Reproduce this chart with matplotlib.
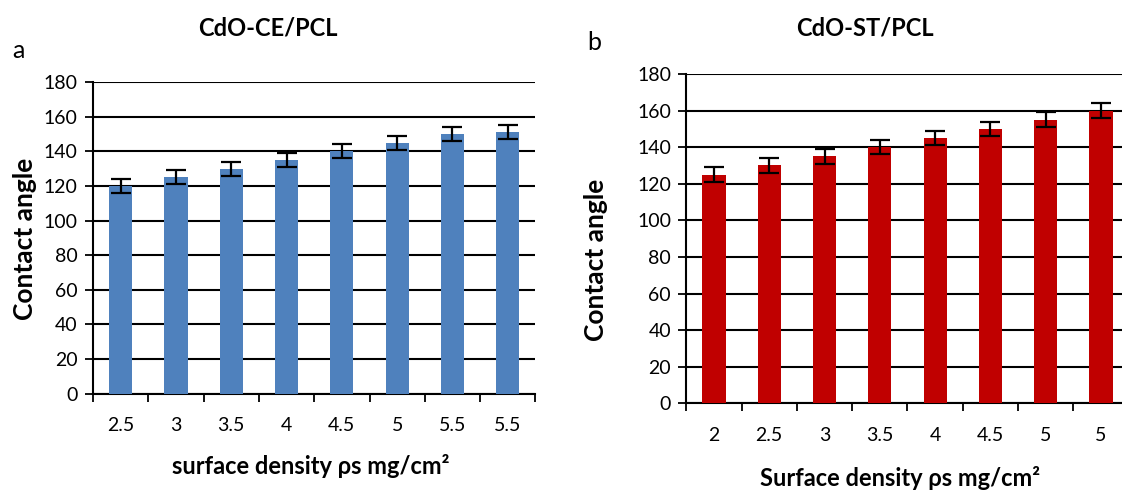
import matplotlib
matplotlib.use("Agg")
import matplotlib.pyplot as plt
import numpy as np

plt.rcParams['font.family'] = ['Lato', 'DejaVu Sans']

# Panel a
labels_a = ["2.5", "3", "3.5", "4", "4.5", "5", "5.5", "5.5"]
values_a = [120, 125, 130, 135, 140, 145, 150, 151]
errors_a = [4, 4, 4, 4, 4, 4, 4, 4]

# Panel b
labels_b = ["2", "2.5", "3", "3.5", "4", "4.5", "5", "5"]
values_b = [125, 130, 135, 140, 145, 150, 155, 160]
errors_b = [4, 4, 4, 4, 4, 4, 4, 4]

yticks = [0, 20, 40, 60, 80, 100, 120, 140, 160, 180]

W, H = 1122, 492
fig = plt.figure(figsize=(W / 100, H / 100), dpi=100)


def panel(rect, labels, values, errors, color, title, xlabel, letter, letter_xy,
          title_xy, xlabel_xy, ylabel_xy):
    ax = fig.add_axes(rect)
    x = np.arange(len(values))
    ax.bar(x, values, width=0.42, color=color, zorder=3)
    ax.errorbar(x, values, yerr=errors, fmt='none', ecolor='black',
                elinewidth=1.6, capsize=7, capthick=1.6, zorder=4)
    ax.set_xlim(-0.5, len(values) - 0.5)
    ax.set_ylim(0, 180)
    ax.set_yticks(yticks)
    ax.yaxis.grid(True, color='black', linewidth=1.5, zorder=1)
    ax.set_axisbelow(True)
    ax.set_xticks(np.arange(-0.5, len(values)), minor=False)
    ax.set_xticklabels([])
    ax.set_xticks(x, minor=True)
    ax.set_xticklabels(labels, minor=True)
    ax.tick_params(axis='x', which='major', direction='out', length=6, width=1.3)
    ax.tick_params(axis='x', which='minor', length=0, pad=17, labelsize=14)
    ax.tick_params(axis='y', direction='out', length=6, width=1.3, labelsize=14, pad=5)
    for s in ['top', 'right']:
        ax.spines[s].set_visible(False)
    for s in ['left', 'bottom']:
        ax.spines[s].set_linewidth(1.5)
        ax.spines[s].set_color('black')
    fig.text(title_xy[0], title_xy[1], title, ha='center', va='center',
             fontsize=17, fontweight='bold')
    fig.text(xlabel_xy[0], xlabel_xy[1], xlabel, ha='center', va='center',
             fontsize=17, fontweight='bold')
    fig.text(ylabel_xy[0], ylabel_xy[1], "Contact angle", ha='center', va='center',
             rotation=90, fontsize=19, fontweight='bold')
    fig.text(letter_xy[0], letter_xy[1], letter, ha='center', va='center', fontsize=18)
    return ax


panel([93 / W, 1 - 393.7 / H, 442.4 / W, 311.7 / H], labels_a, values_a, errors_a,
      '#4F81BD', "CdO-CE/PCL", "surface density ρs mg/cm²", "a", (18 / W, 1 - 50 / H),
      (268 / W, 1 - 28 / H), (311 / W, 1 - 466 / H), (25 / W, 1 - 239 / H))
panel([686.3 / W, 1 - 403.3 / H, 442.4 / W, 329.3 / H], labels_b, values_b, errors_b,
      '#C00000', "CdO-ST/PCL", "Surface density ρs mg/cm²", "b", (594 / W, 1 - 42 / H),
      (865 / W, 1 - 28 / H), (900 / W, 1 - 478 / H), (596 / W, 1 - 260 / H))

fig.savefig("out.png", dpi=100)
